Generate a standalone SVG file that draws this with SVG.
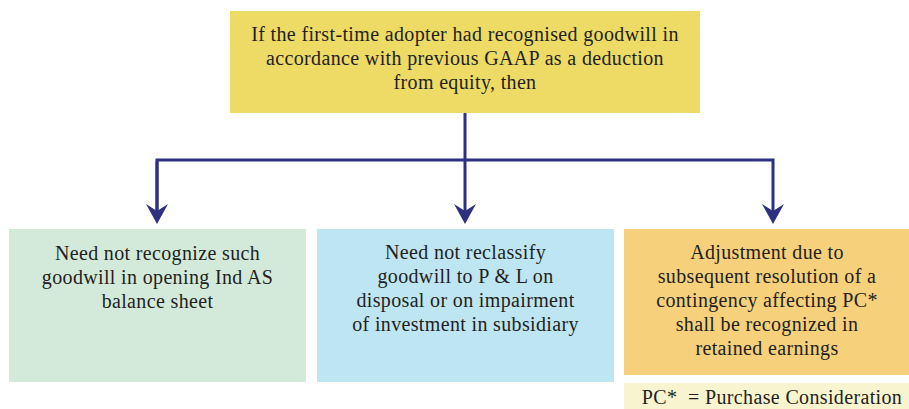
<svg xmlns="http://www.w3.org/2000/svg" width="909" height="409" viewBox="0 0 909 409">
<style>
  .t { font-family: "Liberation Serif", "DejaVu Serif", serif; font-size: 20px; letter-spacing: 0.35px; fill: #231f20; text-anchor: middle; }
  .conn { fill: none; stroke: #2e3180; stroke-width: 3; }
</style>
<defs>
  <marker id="arr" markerUnits="userSpaceOnUse" markerWidth="22" markerHeight="24" viewBox="0 -12 22 24" refX="8" refY="0" orient="auto" overflow="visible">
    <path d="M20,0 L0,-11 L7,0 L0,11 Z" fill="#2e3180"/>
  </marker>
</defs>
<rect width="909" height="409" fill="#ffffff"/>
<g id="top">
  <rect x="230" y="11" width="470" height="102" fill="#eedb66"/>
  <text class="t" x="465" y="41">If the first-time adopter had recognised goodwill in</text>
  <text class="t" x="465" y="65">accordance with previous GAAP as a deduction</text>
  <text class="t" x="465" y="89">from equity, then</text>
</g>
<g id="connectors">
  <path class="conn" d="M465,113 V212" marker-end="url(#arr)"/>
  <path class="conn" d="M157,212 V160 H773 V212" marker-end="url(#arr)"/>
  <path class="conn" d="M157,161.5 V212" marker-end="url(#arr)"/>
</g>
<g id="box1">
  <rect x="9" y="229" width="297" height="153" fill="#d3eadb"/>
  <text class="t" x="157.5" y="260">Need not recognize such</text>
  <text class="t" x="157.5" y="284">goodwill in opening Ind AS</text>
  <text class="t" x="157.5" y="308">balance sheet</text>
</g>
<g id="box2">
  <rect x="317" y="229" width="297" height="153" fill="#bee5f2"/>
  <text class="t" x="465.5" y="259">Need not reclassify</text>
  <text class="t" x="465.5" y="283">goodwill to P &amp; L on</text>
  <text class="t" x="465.5" y="307">disposal or on impairment</text>
  <text class="t" x="465.5" y="331">of investment in subsidiary</text>
</g>
<g id="box3">
  <rect x="624" y="229" width="285" height="146" fill="#f6d07b"/>
  <text class="t" x="767" y="259">Adjustment due to</text>
  <text class="t" x="767" y="283">subsequent resolution of a</text>
  <text class="t" x="767" y="307">contingency affecting PC*</text>
  <text class="t" x="767" y="331">shall be recognized in</text>
  <text class="t" x="767" y="355">retained earnings</text>
</g>
<g id="note">
  <rect x="624" y="383" width="285" height="26" fill="#f8f4cf"/>
  <text class="t" x="772" y="404" xml:space="preserve">PC*  = Purchase Consideration</text>
</g>
</svg>
